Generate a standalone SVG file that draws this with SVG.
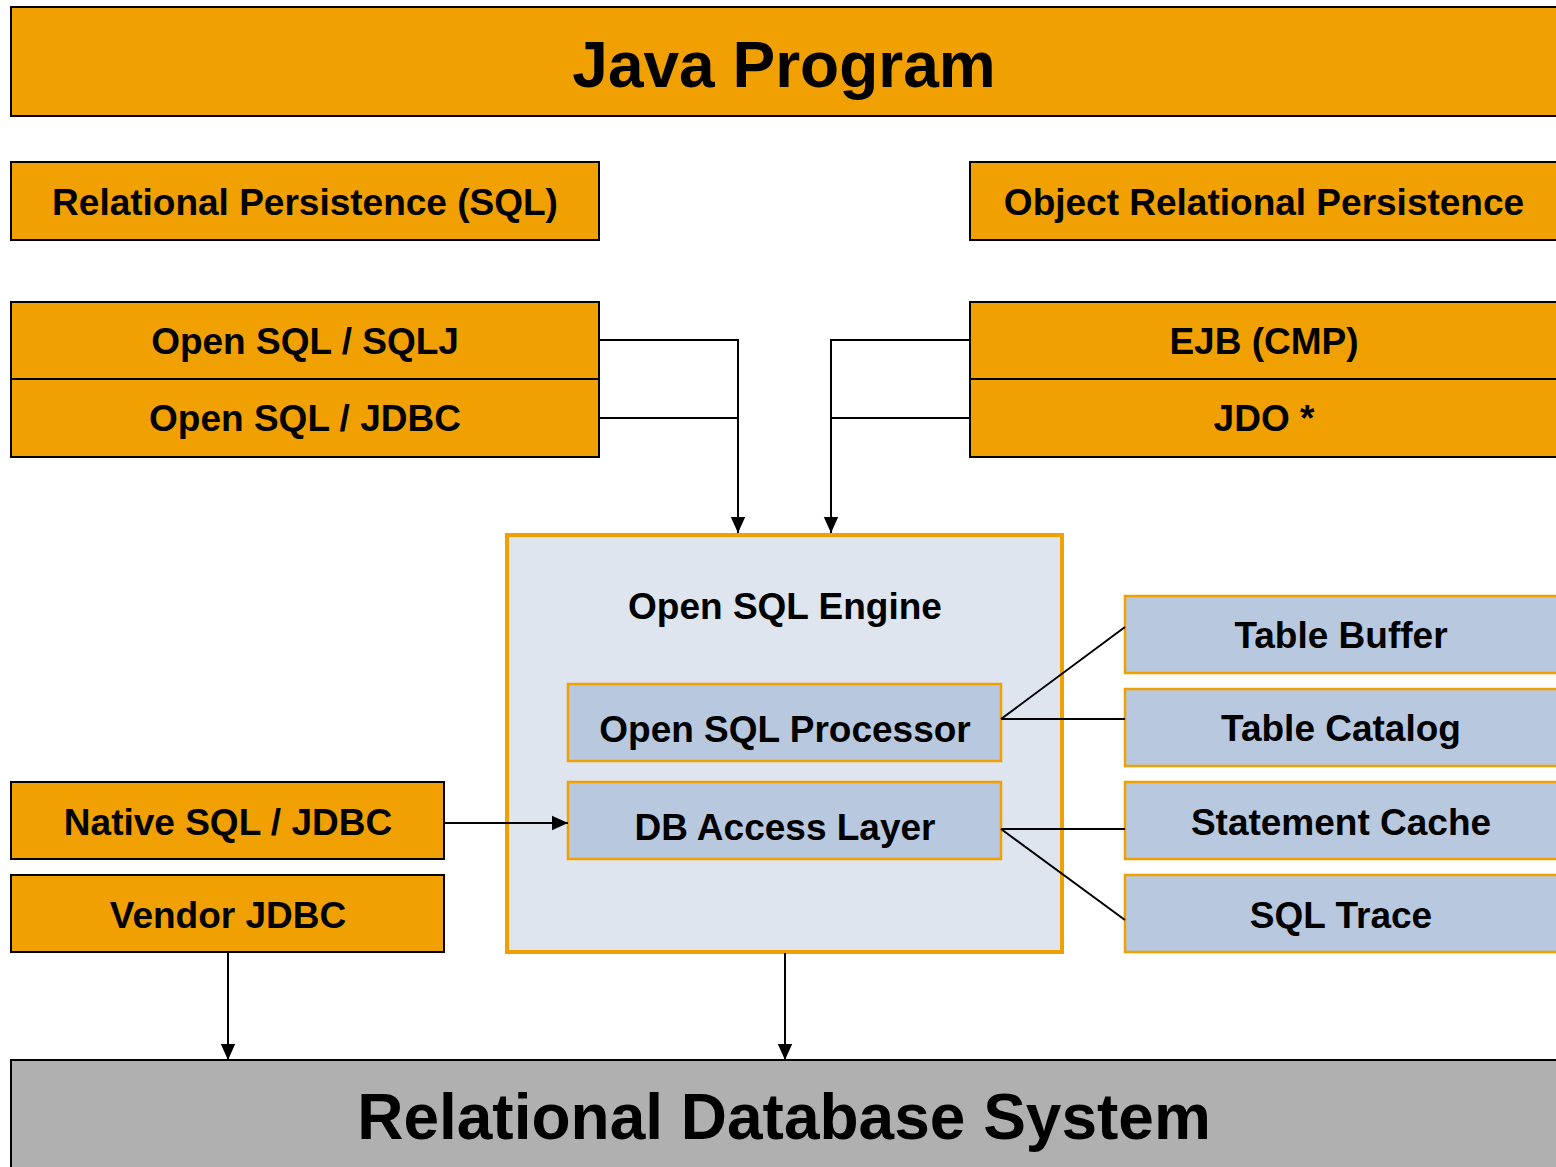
<svg xmlns="http://www.w3.org/2000/svg" width="1556" height="1167" viewBox="0 0 1556 1167">
<style>
.or{fill:#F0A000;stroke:#000;stroke-width:2}
.bl{fill:#B8C8DE;stroke:#F0A000;stroke-width:2.5}
.t{font-family:"Liberation Sans",Arial,sans-serif;font-weight:bold;fill:#000;text-anchor:middle}
.m{font-size:37px}
.big{font-size:64px}
.ln{fill:none;stroke:#000;stroke-width:2}
</style>
<defs>
<marker id="ah" viewBox="0 0 10 10" refX="10" refY="5" markerWidth="16" markerHeight="16" markerUnits="userSpaceOnUse" orient="auto">
<path d="M0,0.5 L10,5 L0,9.5 Z" fill="#000"/>
</marker>
</defs>
<rect width="1556" height="1167" fill="#fff"/>
<g id="java"><rect class="or" x="11" y="7" width="1550" height="109"/><text class="t big" x="784" y="87">Java Program</text></g>
<g id="relpers"><rect class="or" x="11" y="162" width="588" height="78"/><text class="t m" x="305" y="215">Relational Persistence (SQL)</text></g>
<g id="objpers"><rect class="or" x="970" y="162" width="591" height="78"/><text class="t m" x="1264" y="215">Object Relational Persistence</text></g>
<g id="sqlj"><rect class="or" x="11" y="302" width="588" height="77"/><text class="t m" x="305" y="354">Open SQL / SQLJ</text></g>
<g id="jdbc"><rect class="or" x="11" y="379" width="588" height="78"/><text class="t m" x="305" y="431">Open SQL / JDBC</text></g>
<g id="ejb"><rect class="or" x="970" y="302" width="591" height="77"/><text class="t m" x="1264" y="354">EJB (CMP)</text></g>
<g id="jdo"><rect class="or" x="970" y="379" width="591" height="78"/><text class="t m" x="1264" y="431">JDO *</text></g>
<g id="engine"><rect x="507" y="535" width="555" height="417" fill="#DEE5EE" stroke="#F0A000" stroke-width="4"/><text class="t m" x="785" y="619">Open SQL Engine</text></g>
<g id="processor"><rect class="bl" x="568" y="684" width="433" height="77"/><text class="t m" x="785" y="742">Open SQL Processor</text></g>
<g id="dbaccess"><rect class="bl" x="568" y="782" width="433" height="77"/><text class="t m" x="785" y="840">DB Access Layer</text></g>
<g id="native"><rect class="or" x="11" y="782" width="433" height="77"/><text class="t m" x="228" y="835">Native SQL / JDBC</text></g>
<g id="vendor"><rect class="or" x="11" y="875" width="433" height="77"/><text class="t m" x="228" y="928">Vendor JDBC</text></g>
<g id="buffer"><rect class="bl" x="1125" y="596" width="436" height="77"/><text class="t m" x="1341" y="648">Table Buffer</text></g>
<g id="catalog"><rect class="bl" x="1125" y="689" width="436" height="77"/><text class="t m" x="1341" y="741">Table Catalog</text></g>
<g id="cache"><rect class="bl" x="1125" y="782" width="436" height="77"/><text class="t m" x="1341" y="835">Statement Cache</text></g>
<g id="trace"><rect class="bl" x="1125" y="875" width="436" height="77"/><text class="t m" x="1341" y="928">SQL Trace</text></g>
<g id="rdbms"><rect x="11" y="1060" width="1550" height="112" fill="#B0B0B0" stroke="#000" stroke-width="2"/><text class="t big" x="784" y="1139">Relational Database System</text></g>
<g id="connectors">
<path class="ln" d="M599,340 H738 V418"/>
<path class="ln" d="M599,418 H738 V533" marker-end="url(#ah)"/>
<path class="ln" d="M970,340 H831 V418"/>
<path class="ln" d="M970,418 H831 V533" marker-end="url(#ah)"/>
<path class="ln" d="M444,823 H568" marker-end="url(#ah)"/>
<path class="ln" d="M228,952 V1060" marker-end="url(#ah)"/>
<path class="ln" d="M785,953 V1060" marker-end="url(#ah)"/>
<path class="ln" d="M1001,719 L1125,627 M1001,719 H1125 M1001,829 H1125 M1001,829 L1125,920"/>
</g>
</svg>
